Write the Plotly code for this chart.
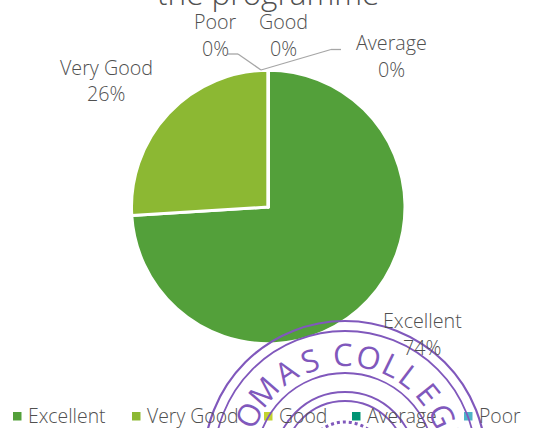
import math
import plotly.graph_objects as go

W, H = 537, 428
categories = ["Excellent", "Very Good", "Good", "Average", "Poor"]
values = [74, 26, 0, 0, 0]
colors = ["#53a03a", "#8cb833", "#c2d32f", "#009474", "#4db3c8"]
title_text = "the programme"
stamp_letters = ["O", "M", "A", "S", "C", "O", "L", "L", "E", "G", "E"]
stamp_angles = [-64, -49, -33, -19, -1, 13, 26, 37, 51, 65, 76]
FONT = "Open Sans"
TXT = "#505050"
INK = "#8058bc"

def px(x): return x / W
def py(y): return 1 - y / H

fig = go.Figure(go.Pie(
    labels=categories, values=values, sort=False, direction="clockwise", rotation=0,
    textinfo="none", hoverinfo="label+percent", showlegend=False,
    marker=dict(colors=colors, line=dict(color="white", width=3)),
    domain=dict(x=[px(131.5), px(405)], y=[py(344), py(70)]),
))

annots = []
def text(x, y, s, size=19.7, color=TXT, angle=0, weight=300):
    annots.append(dict(x=px(x), y=py(y), xref="paper", yref="paper", text=s, showarrow=False,
                       xanchor="center", yanchor="middle", textangle=angle,
                       font=dict(family=FONT, size=size, color=color, weight=weight)))

text(268, -8, title_text, size=31.5)
total = sum(values)
label_pos = {"Excellent": (422, 333), "Very Good": (106, 80), "Good": (283, 34),
             "Average": (391, 56), "Poor": (215, 34)}
for c, v in zip(categories, values):
    x, y = label_pos[c]
    text(x, y - 13, c)
    text(x, y + 14, f"{round(100 * v / total)}%")

shapes = []
# leader lines
for pts in ([(228, 54), (238, 54), (261, 70)], [(341, 49.5), (331, 49.5), (261, 70)]):
    for (a, b), (c, d) in zip(pts, pts[1:]):
        shapes.append(dict(type="line", xref="paper", yref="paper", x0=px(a), y0=py(b), x1=px(c), y1=py(d),
                           line=dict(color="#a6a6a6", width=1.3)))

# legend
legend_x = [13, 132, 264, 352, 464]
for c, col, x in zip(categories, colors, legend_x):
    shapes.append(dict(type="rect", xref="paper", yref="paper", x0=px(x), x1=px(x + 8.5), y0=py(420.5), y1=py(412),
                       fillcolor=col, line_width=0))
    annots.append(dict(x=px(x + 13), y=py(415), xref="paper", yref="paper", text=c, showarrow=False,
                       xanchor="left", yanchor="middle", font=dict(family=FONT, size=19.4, color=TXT, weight=300)))

# stamp
cx, cy = 345, 462
for r, w, dash in [(141, 2.2, "solid"), (131, 1.8, "solid"), (89, 1.8, "solid"), (70, 1.8, "solid"),
                   (61, 1.8, "solid"), (40, 3, "dot")]:
    shapes.append(dict(type="circle", xref="paper", yref="paper", x0=px(cx - r), x1=px(cx + r),
                       y0=py(cy + r), y1=py(cy - r), line=dict(color=INK, width=w, dash=dash)))
for ch, a in zip(stamp_letters, stamp_angles):
    t = math.radians(a)
    text(cx + 108 * math.sin(t), cy - 108 * math.cos(t), ch, size=31, color=INK, angle=a, weight=400)

fig.update_layout(width=W, height=H, margin=dict(l=0, r=0, t=0, b=0), paper_bgcolor="white",
                  annotations=annots, shapes=shapes)
fig.write_html("out.html", config={"displayModeBar": False},
               post_script="document.body.style.margin='0';document.body.style.overflow='hidden';")
